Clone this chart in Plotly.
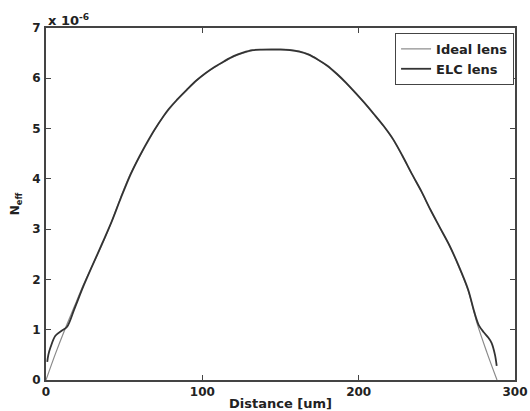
import plotly.graph_objects as go

# Distance [um] and N_eff (x 1e-6)
ideal_x = [0, 6, 12, 18, 24, 30, 36, 42, 48, 54, 60, 66, 72, 78, 84, 90, 96, 102, 108, 114,
           120, 126, 132, 138, 144, 150, 156, 162, 168, 174, 180, 186, 192, 198, 204, 210,
           216, 222, 228, 234, 240, 246, 252, 258, 264, 270, 276, 282, 288.5]
ideal_y = [0.0, 0.52, 1.0, 1.45, 1.9, 2.3, 2.7, 3.15, 3.65, 4.1, 4.45, 4.78, 5.1, 5.35, 5.57, 5.76,
           5.95, 6.1, 6.22, 6.33, 6.43, 6.5, 6.55, 6.57, 6.58, 6.58, 6.57, 6.54, 6.48, 6.37,
           6.24, 6.08, 5.9, 5.7, 5.5, 5.27, 5.05, 4.78, 4.45, 4.1, 3.75, 3.38, 3.02, 2.68,
           2.25, 1.78, 1.1, 0.55, 0.0]

elc_x = [0.8, 1.5, 3, 6, 10, 13.5, 18, 24, 30, 36, 42, 48, 54, 60, 66, 72, 78, 84, 90, 96, 102,
         108, 114, 120, 126, 132, 138, 144, 150, 156, 162, 168, 174, 180, 186, 192, 198, 204,
         210, 216, 222, 228, 234, 240, 246, 252, 258, 264, 270, 274, 277, 280, 283, 285, 287.2, 288.3]
elc_y = [0.36, 0.5, 0.66, 0.88, 0.98, 1.06, 1.4, 1.87, 2.3, 2.72, 3.15, 3.63, 4.08, 4.46, 4.8,
         5.1, 5.37, 5.58, 5.77, 5.95, 6.1, 6.23, 6.34, 6.44, 6.51, 6.56, 6.57, 6.57, 6.57,
         6.56, 6.53, 6.47, 6.37, 6.25, 6.09, 5.91, 5.71, 5.5, 5.28, 5.05, 4.79, 4.46, 4.1,
         3.76, 3.38, 3.03, 2.68, 2.27, 1.8, 1.35, 1.08, 0.95, 0.84, 0.74, 0.5, 0.28]

x_ticks = [0, 100, 200, 300]
y_ticks = [0, 1, 2, 3, 4, 5, 6, 7]

font_family = "DejaVu Sans, Liberation Sans, sans-serif"
ink = "#222222"

fig = go.Figure()
fig.add_trace(go.Scatter(x=ideal_x, y=ideal_y, mode="lines", name="Ideal lens",
                         line=dict(color="#8a8a8a", width=1.2, shape="spline", smoothing=0.9)))
fig.add_trace(go.Scatter(x=elc_x, y=elc_y, mode="lines", name="ELC lens",
                         line=dict(color="#333333", width=1.8, shape="spline", smoothing=0.9)))

axis_common = dict(showgrid=False, zeroline=False, showline=True, linecolor="#444444",
                   linewidth=2, mirror="ticks", ticks="inside", ticklen=5, tickwidth=1,
                   tickcolor="#444444", automargin=False,
                   tickfont=dict(family=font_family, size=12, color=ink, weight="bold"))

fig.update_xaxes(range=[0, 300], tickvals=x_ticks, ticktext=[str(v) for v in x_ticks],
                 ticklabelstandoff=0,
                 title=dict(text="<b>Distance [um]</b>", standoff=0,
                            font=dict(family=font_family, size=13, color=ink)),
                 **axis_common)
fig.update_yaxes(range=[0, 7], tickvals=y_ticks, ticktext=[str(v) for v in y_ticks],
                 ticklabelstandoff=1,
                 title=dict(text="<b>N<sub>eff</sub></b>", standoff=10,
                            font=dict(family=font_family, size=12, color=ink)),
                 **axis_common)

fig.add_annotation(xref="paper", yref="paper", x=0, y=1, xanchor="left", yanchor="bottom",
                   text="<b>x 10<sup>-6</sup></b>", showarrow=False, xshift=0, yshift=-2,
                   font=dict(family=font_family, size=13, color=ink))

fig.update_layout(
    width=530, height=411,
    margin=dict(l=46, r=15, t=28, b=31),
    paper_bgcolor="white", plot_bgcolor="white",
    showlegend=True,
    legend=dict(x=0.998, y=0.986, xanchor="right", yanchor="top",
                bgcolor="white", bordercolor="#444444", borderwidth=1,
                itemwidth=30, tracegroupgap=0,
                font=dict(family=font_family, size=13, color=ink, weight="bold")),
)

fig.write_html("out.html", config={"displayModeBar": False},
               post_script="document.body.style.margin='0';document.body.style.overflow='hidden';")
